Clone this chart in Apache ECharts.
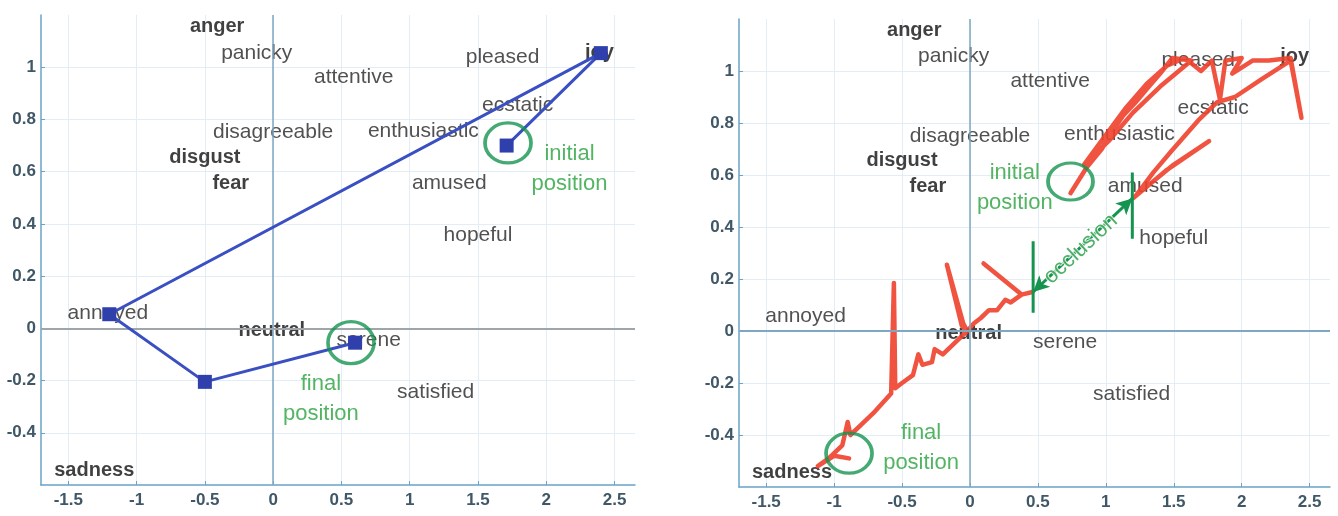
<!DOCTYPE html>
<html><head><meta charset="utf-8">
<script src="https://cdn.jsdelivr.net/npm/echarts@6.0.0/dist/echarts.min.js"></script>
<style>html,body{margin:0;padding:0;background:#fff}#c{width:1338px;height:516px}</style>
</head><body><div id="c"></div>
<script>
// ---- data ----
const xTicks = [-1.5, -1, -0.5, 0, 0.5, 1, 1.5, 2, 2.5];
const yTicks = [-0.4, -0.2, 0, 0.2, 0.4, 0.6, 0.8, 1];
const xRange = [-1.7, 2.65];
const yRange = [-0.6, 1.2];

const wordNames = ['anger','panicky','attentive','pleased','joy','ecstatic','enthusiastic','disagreeable','disgust','fear','amused','hopeful','annoyed','neutral','serene','satisfied','sadness'];
const wordX = [-0.41, -0.12, 0.59, 1.68, 2.39, 1.79, 1.10, 0.0, -0.50, -0.31, 1.29, 1.50, -1.21, -0.01, 0.70, 1.19, -1.31];
const wordY = [1.155, 1.055, 0.96, 1.04, 1.055, 0.855, 0.755, 0.75, 0.655, 0.555, 0.555, 0.355, 0.058, -0.01, -0.045, -0.245, -0.543];
const boldWords = ['anger','joy','disgust','fear','neutral','sadness'];

const bluePath = [[1.71, 0.70], [2.40, 1.054], [-1.20, 0.054], [-0.50, -0.205], [0.60, -0.055]];

const redBeforeOcclusion = [
  [0.74,0.53],[0.86,0.63],[0.97,0.70],[1.05,0.77],[1.13,0.83],[1.22,0.88],[1.30,0.93],[1.40,0.99],[1.49,1.05],[1.63,1.04],
  [1.40,0.94],[1.20,0.84],[1.02,0.73],[0.84,0.64],[0.98,0.74],[1.15,0.86],[1.30,0.95],[1.45,1.02],[1.58,1.05],[1.70,1.00],
  [1.78,1.04],[1.84,0.89],[1.88,1.04],[2.00,1.05],[1.93,0.99],[2.08,1.04],[2.20,1.04],[2.36,1.05],[2.44,0.82],[2.36,1.04],
  [2.15,0.97],[1.95,0.90],[1.82,0.88],[1.68,0.81],[1.58,0.75],[1.48,0.69],[1.35,0.61],[1.22,0.52],[1.50,0.64],[1.76,0.73],
  [1.45,0.62],[1.20,0.51]
];
const redAfterOcclusion = [
  [0.46,0.15],[0.38,0.14],[0.10,0.26],[0.38,0.14],[0.30,0.11],[0.26,0.12],[0.20,0.08],[0.14,0.08],[0.08,0.05],[0.03,0.03],
  [-0.02,0.00],[-0.05,0.03],[-0.17,0.255],[-0.06,0.02],[-0.02,0.00],[-0.10,-0.04],[-0.20,-0.09],[-0.26,-0.07],[-0.28,-0.12],
  [-0.35,-0.13],[-0.38,-0.09],[-0.42,-0.17],[-0.50,-0.20],[-0.55,-0.22],[-0.56,0.185],[-0.58,-0.24],[-0.70,-0.31],[-0.80,-0.36],
  [-0.88,-0.40],[-0.90,-0.35],[-0.94,-0.44],[-1.04,-0.49],[-1.12,-0.52],[-1.00,-0.48],[-0.89,-0.49]
];

const occlusionStart = [0.465, 0.15];
const occlusionEnd = [1.195, 0.51];
const occlusionBarLeft = [[0.465, 0.07], [0.465, 0.345]];
const occlusionBarRight = [[1.195, 0.355], [1.195, 0.61]];
const occlusionText = ['occlusion', 0.815, 0.315];

const circlesLeft = [[1.72, 0.71], [0.57, -0.055]];
const circlesRight = [[0.74, 0.575], [-0.89, -0.47]];
const notesLeft = [['initial\nposition', 2.17, 0.61], ['final\nposition', 0.35, -0.27]];
const notesRight = [['initial\nposition', 0.33, 0.55], ['final\nposition', -0.36, -0.45]];

// ---- styling ----
const FONT = 'Liberation Sans, Arial, sans-serif';
const GREEN_LINE = '#159450';
const GREEN_TEXT = '#28a23c';
const AXIS_COLOR = '#6aa3c9';
const LABEL_COLOR = '#3f5766';
const CLEAR = 'rgba(0,0,0,0)';
const grids = [
  {left: 41, top: 15, width: 594, height: 470},
  {left: 739, top: 19, width: 591, height: 468}
];

function xAxisFor(i) {
  return {
    type: 'value', gridIndex: i, min: xRange[0], max: xRange[1],
    axisLine: {show: true, onZero: false, lineStyle: {color: AXIS_COLOR, width: 1.5}},
    axisTick: {show: true, inside: true, length: 4, customValues: xTicks, lineStyle: {color: AXIS_COLOR}},
    axisLabel: {customValues: xTicks, color: LABEL_COLOR, fontSize: 17, fontWeight: 'bold', fontFamily: FONT, margin: 7},
    splitLine: {show: true, lineStyle: {color: '#e3edf5', width: 1}}
  };
}
function yAxisFor(i) {
  return {
    type: 'value', gridIndex: i, min: yRange[0], max: yRange[1],
    axisLine: {show: true, onZero: false, lineStyle: {color: AXIS_COLOR, width: 1.5}},
    axisTick: {show: true, inside: true, length: 4, customValues: yTicks, lineStyle: {color: AXIS_COLOR}},
    axisLabel: {customValues: yTicks, color: LABEL_COLOR, fontSize: 17, fontWeight: 'bold', fontFamily: FONT, margin: 5},
    splitLine: {show: true, lineStyle: {color: '#e3edf5', width: 1}}
  };
}

function textSeries(i, data, label, z) {
  return {
    type: 'scatter', xAxisIndex: i, yAxisIndex: i, data, symbolSize: 2, silent: true, z: z,
    itemStyle: {color: CLEAR},
    labelLayout: {hideOverlap: false},
    label: Object.assign({show: true, position: 'inside', formatter: '{b}', fontFamily: FONT}, label)
  };
}

function wordSeries(i) {
  const normal = [], bold = [];
  wordNames.forEach((n, k) => {
    const d = {name: n, value: [wordX[k], wordY[k]]};
    (boldWords.includes(n) ? bold : normal).push(d);
  });
  return [
    textSeries(i, normal, {fontSize: 21, color: '#262626'}, 1),
    textSeries(i, bold, {fontSize: 20, fontWeight: 'bold', color: '#101010'}, 1)
  ];
}

function zeroLines(i, hColor) {
  return {
    type: 'line', xAxisIndex: i, yAxisIndex: i, data: [], silent: true,
    markLine: {
      silent: true, symbol: 'none', label: {show: false}, animation: false,
      data: [
        {xAxis: 0, lineStyle: {color: '#7ea7c2', width: 1.5, type: 'solid'}},
        {yAxis: 0, lineStyle: {color: hColor, width: 2, type: 'solid'}}
      ]
    }
  };
}

const ELLIPSE = 'path://M0,50A50,50,0,1,1,100,50A50,50,0,1,1,0,50Z';
function circleSeries(i, pts, sizes) {
  return {
    type: 'scatter', xAxisIndex: i, yAxisIndex: i, silent: true, z: 6,
    data: pts.map((p, k) => ({value: p, symbolSize: sizes[k]})),
    symbol: ELLIPSE,
    itemStyle: {color: CLEAR, borderColor: GREEN_LINE, borderWidth: 3.5}
  };
}
function noteSeries(i, notes) {
  return textSeries(i, notes.map(n => ({name: n[0], value: [n[1], n[2]]})),
    {fontSize: 22, lineHeight: 30, color: GREEN_TEXT, align: 'center'}, 6);
}

const series = [
  zeroLines(0, '#9ea6ab'),
  zeroLines(1, '#7ea7c2'),
  ...wordSeries(0),
  ...wordSeries(1),
  {
    type: 'line', xAxisIndex: 0, yAxisIndex: 0, data: bluePath, z: 5,
    symbol: 'rect', symbolSize: 14,
    lineStyle: {color: '#3a4fc2', width: 3},
    itemStyle: {color: '#2f40ad'}
  },
  circleSeries(0, circlesLeft, [[46, 40], [46, 42]]),
  noteSeries(0, notesLeft),
  {
    type: 'line', xAxisIndex: 1, yAxisIndex: 1, data: redBeforeOcclusion, z: 4, symbol: 'none',
    lineStyle: {color: '#f0402c', width: 4.5, opacity: 0.9, join: 'round', cap: 'round'}
  },
  {
    type: 'line', xAxisIndex: 1, yAxisIndex: 1, data: redAfterOcclusion, z: 4, symbol: 'none',
    lineStyle: {color: '#f0402c', width: 4.5, opacity: 0.9, join: 'round', cap: 'round'}
  },
  {
    type: 'line', xAxisIndex: 1, yAxisIndex: 1, data: occlusionBarLeft, z: 5, symbol: 'none',
    lineStyle: {color: GREEN_LINE, width: 3}
  },
  {
    type: 'line', xAxisIndex: 1, yAxisIndex: 1, data: occlusionBarRight, z: 5, symbol: 'none',
    lineStyle: {color: GREEN_LINE, width: 3},
    markLine: {
      silent: true, symbol: ['arrow', 'arrow'], symbolSize: [12, 16], label: {show: false}, animation: false,
      lineStyle: {color: GREEN_LINE, width: 3, type: 'solid'},
      data: [[{coord: occlusionStart}, {coord: occlusionEnd}]]
    }
  },
  textSeries(1, [{name: occlusionText[0], value: [occlusionText[1], occlusionText[2]]}],
    {rotate: 43, fontSize: 22, color: '#1f9c3e', textBorderColor: '#ffffff', textBorderWidth: 2}, 7),
  circleSeries(1, circlesRight, [[45, 37], [46, 40]]),
  noteSeries(1, notesRight)
];

const chart = echarts.init(document.getElementById('c'), null, {renderer: 'canvas'});
chart.setOption({
  backgroundColor: '#ffffff',
  animation: false,
  grid: grids,
  xAxis: [xAxisFor(0), xAxisFor(1)],
  yAxis: [yAxisFor(0), yAxisFor(1)],
  series
});
</script>
</body></html>
